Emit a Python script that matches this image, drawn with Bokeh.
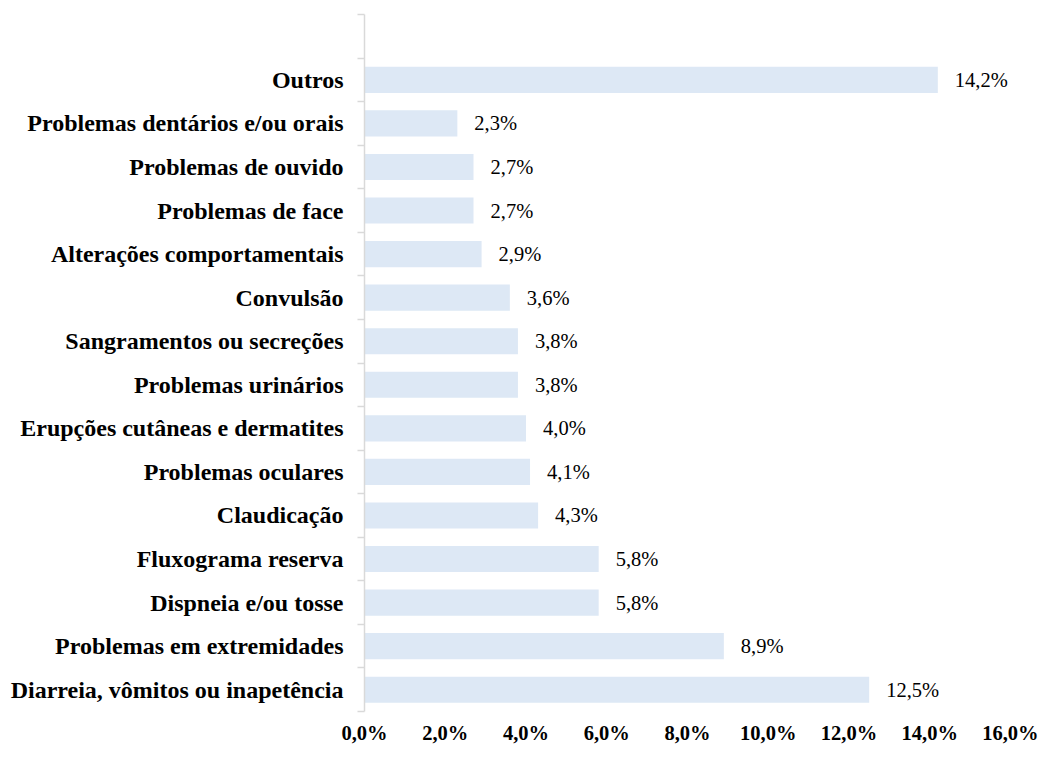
from bokeh.plotting import figure
from bokeh.models import Range1d, FixedTicker, ColumnDataSource
from bokeh.embed import file_html
from bokeh.resources import INLINE
from bokeh.core.properties import value

categories = [
    "Diarreia, vômitos ou inapetência",
    "Problemas em extremidades",
    "Dispneia e/ou tosse",
    "Fluxograma reserva",
    "Claudicação",
    "Problemas oculares",
    "Erupções cutâneas e dermatites",
    "Problemas urinários",
    "Sangramentos ou secreções",
    "Convulsão",
    "Alterações comportamentais",
    "Problemas de face",
    "Problemas de ouvido",
    "Problemas dentários e/ou orais",
    "Outros",
]
values = [12.5, 8.9, 5.8, 5.8, 4.3, 4.1, 4.0, 3.8, 3.8, 3.6, 2.9, 2.7, 2.7, 2.3, 14.2]
x_ticks = [0, 2, 4, 6, 8, 10, 12, 14, 16]
x_tick_labels = ["0,0%", "2,0%", "4,0%", "6,0%", "8,0%", "10,0%", "12,0%", "14,0%", "16,0%"]

FONT = "'Liberation Serif', 'Times New Roman', serif"

n_slots = len(categories) + 1  # one empty slot on top
ypos = [i + 0.5 for i in range(len(categories))]
labels = [f"{v:.1f}%".replace(".", ",") for v in values]

src = ColumnDataSource(dict(y=ypos, v=values, lab=labels, cat=categories))

p = figure(width=1038, height=746, output_backend="svg", toolbar_location=None,
           x_range=Range1d(0, 16), y_range=Range1d(0, n_slots),
           min_border_left=364, min_border_right=28, min_border_top=14, min_border_bottom=34)
p.outline_line_color = None
p.grid.grid_line_color = None
p.background_fill_color = "white"
p.border_fill_color = "white"

p.hbar(y="y", right="v", left=0, height=0.6, source=src,
       fill_color="#dde8f5", line_color=None)
p.text(x="v", y="y", text="lab", source=src, x_offset=17,
       text_baseline="middle", text_align="left",
       text_font=value(FONT), text_font_size="20.5px", text_color="#000000")

# y axis
ya = p.yaxis[0]
ya.ticker = FixedTicker(ticks=ypos, minor_ticks=list(range(n_slots + 1)))
ya.major_label_overrides = {y: c for y, c in zip(ypos, categories)}
ya.major_tick_out = 0
ya.major_tick_in = 0
ya.minor_tick_out = 7
ya.minor_tick_in = 0
ya.minor_tick_line_color = "#d9d9d9"
ya.axis_line_color = "#d9d9d9"
ya.axis_line_width = 1.5
ya.minor_tick_line_width = 1.5
ya.major_label_standoff = 14
ya.major_label_text_font = FONT
ya.major_label_text_font_style = "bold"
ya.major_label_text_font_size = "24px"
ya.major_label_text_color = "#000000"

# x axis
xa = p.xaxis[0]
xa.ticker = FixedTicker(ticks=x_ticks, minor_ticks=[])
xa.major_label_overrides = {t: l for t, l in zip(x_ticks, x_tick_labels)}
xa.axis_line_color = None
xa.major_tick_line_color = None
xa.minor_tick_line_color = None
xa.major_tick_out = 0
xa.major_label_standoff = 10
xa.major_label_text_font = FONT
xa.major_label_text_font_style = "bold"
xa.major_label_text_font_size = "20.5px"
xa.major_label_text_color = "#000000"

open("out.html", "w").write(file_html(p, INLINE))
